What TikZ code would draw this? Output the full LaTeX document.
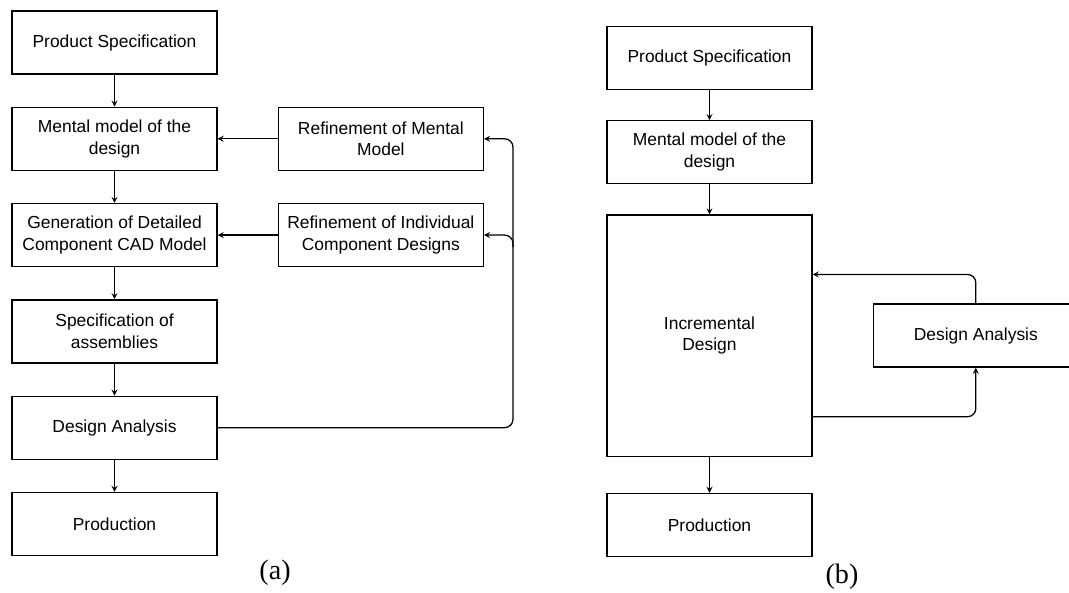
\documentclass[tikz,border=0pt]{standalone}
\usepackage{fontspec}
\setmainfont{Liberation Serif}
\setsansfont{Liberation Sans}
\usetikzlibrary{positioning}

\begin{document}
\begin{tikzpicture}[x=0.025cm,y=-0.025cm,>=stealth,line width=0.9pt]
\tikzstyle{block}=[draw,rectangle,minimum width=5.125cm,minimum height=1.575cm,align=center,inner sep=2pt,font=\sffamily\fontsize{12.4}{15.4}\selectfont]
\tikzstyle{tall}=[block,minimum height=6.025cm]
\tikzstyle{caption}=[font=\fontsize{20}{22}\selectfont]

\useasboundingbox (0,0) rectangle (1069,592);
\clip (0,0) rectangle (1069,592);

\node[block] (a1) at (114.5,42.5) {Product Specification};
\node[block] (a2) [below=0.8cm of a1] {Mental model of the\\design};
\node[block] (a3) [below=0.8cm of a2] {Generation of Detailed\\Component CAD Model};
\node[block] (a4) [below=0.8cm of a3] {Specification of\\assemblies};
\node[block] (a5) [below=0.8cm of a4] {Design Analysis};
\node[block] (a6) [below=0.8cm of a5] {Production};
\node[block] (r1) [right=1.5cm of a2] {Refinement of Mental\\Model};
\node[block] (r2) [right=1.5cm of a3] {Refinement of Individual\\Component Designs};
\node[caption] (capa) at (275,573) {(a)};

\node[block] (b1) at (709.5,58) {Product Specification};
\node[block] (b2) [below=0.75cm of b1] {Mental model of the\\design};
\node[tall] (b3) [below=0.75cm of b2] {Incremental\\Design};
\node[block] (b4) [right=1.5cm of b3] {Design Analysis};
\node[block] (b5) [below=0.9cm of b3] {Production};
\node[caption] (capb) at (842,577) {(b)};

\coordinate (fb1) at ([xshift=0.725cm]r1.east);
\coordinate (fb2) at ([xshift=0.725cm]r2.east);

\path[->]
(a1) edge (a2)
(a2) edge (a3)
(a3) edge (a4)
(a4) edge (a5)
(a5) edge (a6)
(r1) edge (a2)
(r2) edge (a3)
(b1) edge (b2)
(b2) edge (b3)
(b3) edge (b5);

\draw[->,rounded corners=6pt] (a5.east) -| (fb1) -- (r1.east);
\draw[->,rounded corners=6pt] ([yshift=-0.3cm]fb2) -- (fb2) -- (r2.east);
\draw[->,rounded corners=6pt] (b4.north) |- ([yshift=-1.5cm]b3.north east);
\draw[->,rounded corners=6pt] ([yshift=1cm]b3.south east) -| (b4.south);

\end{tikzpicture}
\end{document}
